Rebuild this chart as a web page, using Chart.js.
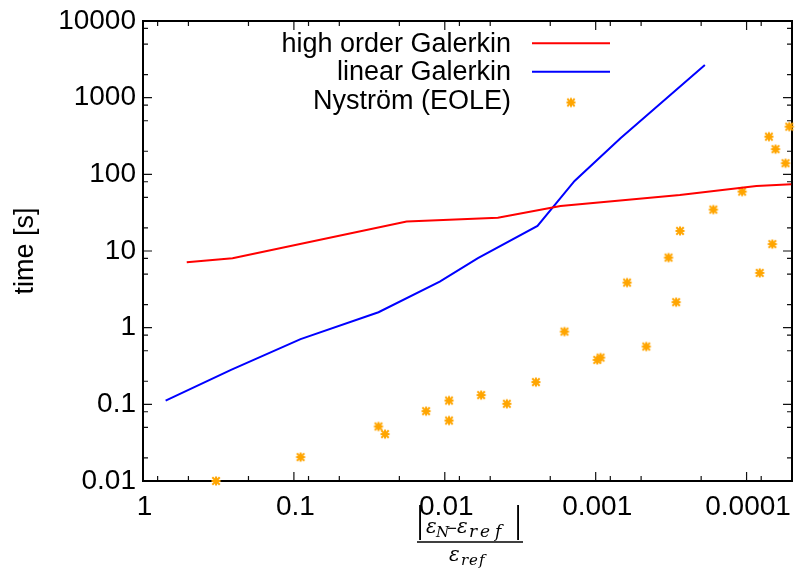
<!DOCTYPE html>
<html><head><meta charset="utf-8">
<script src="https://cdn.jsdelivr.net/npm/chart.js@4"></script>
<style>html,body{margin:0;padding:0;background:#fff}#wrap{width:798px;height:568px}</style>
</head><body><div id="wrap"><canvas id="c" width="798" height="568"></canvas></div>
<script>
// ---- data ----
const xTickValues = [1, 0.1, 0.01, 0.001, 0.0001];
const yTickValues = [0.01, 0.1, 1, 10, 100, 1000, 10000];
const seriesNames = ['high order Galerkin', 'linear Galerkin', 'Nyström (EOLE)'];
const yAxisTitle = 'time [s]';

const highOrderX = [0.513, 0.255, 0.0179, 0.00445, 0.00171, 0.000277, 0.000086, 0.0000506];
const highOrderY = [7.14, 8.05, 24.2, 27.2, 38.7, 53.9, 70.6, 74.3];

const linearX = [0.708, 0.261, 0.0903, 0.0275, 0.0108, 0.00603, 0.00243, 0.00138, 0.000685, 0.000189];
const linearY = [0.112, 0.282, 0.708, 1.59, 3.99, 8.05, 21.2, 82, 296, 2670];

const nystromX = [0.328, 0.0903, 0.0275, 0.0249, 0.0133, 0.00937, 0.00937, 0.00574, 0.00388, 0.00249,
  0.00161, 0.000976, 0.000929, 0.000619, 0.000462, 0.000329, 0.000293, 0.000276, 0.000166, 0.000107,
  0.0000818, 0.0000675, 0.0000711, 0.0000643, 0.0000552, 0.0000521];
const nystromY = [0.01, 0.0205, 0.0514, 0.0409, 0.0815, 0.112, 0.0615, 0.132, 0.1016, 0.195,
  0.889, 0.380, 0.407, 3.87, 0.567, 8.2, 2.15, 18.3, 34.7, 59.5,
  5.18, 12.3, 310, 213, 139.6, 419];

const X_MIN = 0.00005, X_MAX = 1, Y_MIN = 0.01, Y_MAX = 10000;
// ---- end data ----

const SANS = '"Liberation Sans", Arial, sans-serif';
const SERIF = '"DejaVu Serif", "Liberation Serif", serif';
const ORANGE = '#ffa500';
const TICK_FONT = 28;

function pairs(xs, ys) { return xs.map((x, i) => ({ x: x, y: ys[i] })); }

// asterisk marker (gnuplot pt 3 style)
const marker = document.createElement('canvas');
marker.width = 12; marker.height = 12;
(function () {
  const m = marker.getContext('2d');
  m.strokeStyle = ORANGE; m.lineWidth = 2; m.lineCap = 'butt';
  m.beginPath();
  m.moveTo(1.5, 6); m.lineTo(10.5, 6);
  m.moveTo(6, 1.5); m.lineTo(6, 10.5);
  m.moveTo(2.3, 2.3); m.lineTo(9.7, 9.7);
  m.moveTo(2.3, 9.7); m.lineTo(9.7, 2.3);
  m.stroke();
})();

function fmt(v) { return String(v); }

const decor = {
  id: 'decor',
  beforeDatasetsDraw(chart) {
    const { ctx, chartArea: a, scales } = chart;
    const xs = scales.x, ys = scales.y;
    ctx.save();
    ctx.strokeStyle = '#111';
    ctx.lineWidth = 1.2;
    const mults = [1, 2, 5, 8];
    ctx.beginPath();
    for (let k = 0; k >= -5; k--) {
      for (const m of mults) {
        const v = m * Math.pow(10, k);
        if (v > X_MAX * 1.0001 || v < X_MIN * 0.9999) continue;
        const px = xs.getPixelForValue(v);
        const len = m === 1 ? 9 : 5;
        ctx.moveTo(px, a.bottom); ctx.lineTo(px, a.bottom - len);
        ctx.moveTo(px, a.top); ctx.lineTo(px, a.top + len);
      }
    }
    for (let k = -2; k <= 4; k++) {
      for (const m of mults) {
        const v = m * Math.pow(10, k);
        if (v > Y_MAX * 1.0001 || v < Y_MIN * 0.9999) continue;
        const py = ys.getPixelForValue(v);
        const len = m === 1 ? 9 : 5;
        ctx.moveTo(a.left, py); ctx.lineTo(a.left + len, py);
        ctx.moveTo(a.right, py); ctx.lineTo(a.right - len, py);
      }
    }
    ctx.stroke();
    ctx.lineWidth = 2;
    ctx.strokeStyle = '#000';
    ctx.strokeRect(a.left, a.top, a.right - a.left, a.bottom - a.top);

    // x tick labels (through the x scale)
    ctx.fillStyle = '#000';
    ctx.font = TICK_FONT + 'px ' + SANS;
    ctx.textAlign = 'center';
    ctx.textBaseline = 'middle';
    xTickValues.forEach(v => ctx.fillText(fmt(v), xs.getPixelForValue(v) + 1.5, a.bottom + 26.5));
    ctx.restore();
  },
  afterDraw(chart) {
    const ctx = chart.ctx;
    ctx.save();
    // legend
    ctx.fillStyle = '#000';
    ctx.font = '27px ' + SANS;
    ctx.textAlign = 'right';
    ctx.textBaseline = 'alphabetic';
    const rowsText = [51.5, 80, 108.5];
    const rowsLine = [43.3, 71.7, 102.5];
    seriesNames.forEach((s, i) => ctx.fillText(s, 511, rowsText[i]));
    ctx.lineWidth = 2;
    ctx.strokeStyle = '#ff0000';
    ctx.beginPath(); ctx.moveTo(532, rowsLine[0]); ctx.lineTo(610, rowsLine[0]); ctx.stroke();
    ctx.strokeStyle = '#0000ff';
    ctx.beginPath(); ctx.moveTo(532, rowsLine[1]); ctx.lineTo(610, rowsLine[1]); ctx.stroke();
    ctx.drawImage(marker, 571 - 6, rowsLine[2] - 6);

    // y axis title
    ctx.save();
    ctx.translate(26, 251);
    ctx.rotate(-Math.PI / 2);
    ctx.textAlign = 'center';
    ctx.textBaseline = 'middle';
    ctx.font = '27px ' + SANS;
    ctx.fillText(yAxisTitle, 0, 0);
    ctx.restore();

    // x axis title: |eps_N - eps_ref| / eps_ref
    ctx.textBaseline = 'alphabetic';
    ctx.textAlign = 'center';
    ctx.font = '38px "Liberation Serif", serif';
    ctx.fillText('|', 420, 532);
    ctx.fillText('|', 518, 532);
    ctx.textAlign = 'left';
    ctx.font = 'italic 20px ' + SERIF;
    ctx.fillText('ε', 426, 533);
    ctx.font = 'italic 15px ' + SERIF;
    ctx.fillText('N', 436, 537);
    ctx.font = '17px ' + SANS;
    ctx.fillText('−', 447, 534);
    ctx.font = 'italic 20px ' + SERIF;
    ctx.fillText('ε', 457, 533);
    ctx.font = 'italic 17px ' + SERIF;
    ctx.fillText('r', 469, 537);
    ctx.fillText('e', 480, 537);
    ctx.fillText('f', 495, 537);
    ctx.lineWidth = 1.3;
    ctx.strokeStyle = '#000';
    ctx.beginPath(); ctx.moveTo(417, 542); ctx.lineTo(523, 542); ctx.stroke();
    ctx.font = 'italic 20px ' + SERIF;
    ctx.fillText('ε', 449, 561);
    ctx.font = 'italic 15px ' + SERIF;
    ctx.fillText('r', 461, 565);
    ctx.fillText('e', 469, 565);
    ctx.fillText('f', 479, 565);
    ctx.restore();
  }
};

new Chart(document.getElementById('c'), {
  type: 'scatter',
  data: {
    datasets: [
      { label: seriesNames[0], data: pairs(highOrderX, highOrderY), showLine: true,
        borderColor: '#ff0000', borderWidth: 2, pointRadius: 0, fill: false, tension: 0 },
      { label: seriesNames[1], data: pairs(linearX, linearY), showLine: true,
        borderColor: '#0000ff', borderWidth: 2, pointRadius: 0, fill: false, tension: 0 },
      { label: seriesNames[2], data: pairs(nystromX, nystromY), showLine: false,
        pointStyle: marker, pointRadius: 5, borderColor: ORANGE, backgroundColor: ORANGE, clip: 6 }
    ]
  },
  options: {
    responsive: false,
    animation: false,
    events: [],
    layout: { padding: { top: 21, right: 3, left: 0, bottom: 0 } },
    plugins: { legend: { display: false }, tooltip: { enabled: false } },
    scales: {
      x: {
        type: 'logarithmic', reverse: true, min: X_MIN, max: X_MAX,
        grid: { display: false, drawTicks: false },
        border: { display: false },
        ticks: { display: false },
        afterFit: (s) => { s.height = 87; s.paddingLeft = 0; s.paddingRight = 0; }
      },
      y: {
        type: 'logarithmic', min: Y_MIN, max: Y_MAX,
        grid: { display: false, drawTicks: false },
        border: { display: false },
        ticks: { color: '#000', font: { family: SANS, size: TICK_FONT }, padding: 7,
          autoSkip: false, callback: (v) => fmt(v) },
        afterBuildTicks: (s) => { s.ticks = yTickValues.map(v => ({ value: v, major: true })); },
        afterFit: (s) => { s.width = 143; s.paddingTop = 0; s.paddingBottom = 0; }
      }
    }
  },
  plugins: [decor]
});
</script>
</body></html>
